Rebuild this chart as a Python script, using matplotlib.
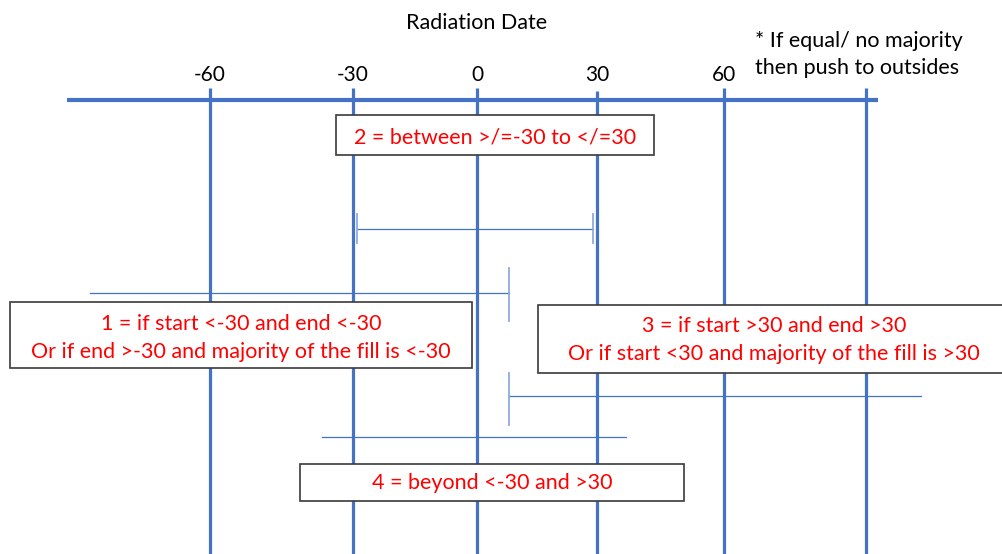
import numpy as np
import matplotlib
matplotlib.use('Agg')
import matplotlib.pyplot as plt
from matplotlib.patches import Rectangle

plt.rcParams['font.family'] = ['Lato', 'DejaVu Sans']

# ---- data ----
title = 'Radiation Date'
tick_days = [-60, -30, 0, 30, 60]
tick_labels = ['-60', '-30', '0', '30', '60']
grid_days = [-60, -30, 0, 30, 60, 90]
axis_span = [-90, 92.5]
interval_starts = [-29, -85.2, 8, -36.5]
interval_ends = [29, 8, 101.6, 36.9]
note_lines = ['* If equal/ no majority', 'then push to outsides']
box_texts = ['2 = between >/=-30 to </=30',
             '1 = if start <-30 and end <-30\nOr if end >-30 and majority of the fill is <-30',
             '3 = if start >30 and end >30\nOr if start <30 and majority of the fill is >30',
             '4 = beyond <-30 and >30']

# ---- uneven hand-drawn day scale ----
DAY_ANCH = [-200, -90, -60, -30, 0, 30, 60, 90, 120, 250]
PX_ANCH = [-314, 67, 210, 353, 477, 597, 724, 866, 1008, 1623]
fwd = lambda d: np.interp(d, DAY_ANCH, PX_ANCH)
inv = lambda p: np.interp(p, PX_ANCH, DAY_ANCH)

W, H = 1003, 554
fig = plt.figure(figsize=(W / 100, H / 100), dpi=100)
ax = fig.add_axes([0, 0, 1, 1])
ax.set_xscale('function', functions=(fwd, inv))
ax.set_xlim(inv(0), inv(W))
ax.set_ylim(H, 0)
ax.axis('off')

blue = '#4472C4'
FS = 15.5
# main axis line
ax.plot(axis_span, [100, 100], color=blue, lw=3.0, solid_capstyle='butt', zorder=2)
# vertical grid lines
tops = [88, 88, 88, 91, 88, 88]
for d, t in zip(grid_days, tops):
    ax.plot([d, d], [t, H], color=blue, lw=2.3, solid_capstyle='butt', zorder=2)
# tick labels
for d, lab in zip(tick_days, tick_labels):
    ax.text(d, 75, lab, ha='center', va='center', fontsize=15, color='black')
ax.text(0, 23, title, ha='center', va='center', fontsize=FS, color='black')

# intervals
iy = [229, 293, 396, 437]
for s, e, y in zip(interval_starts, interval_ends, iy):
    ax.plot([s, e], [y, y], color=blue, lw=0.9, zorder=3)
cap_col = '#8FAADC'
# caps: interval 2 both ends, interval 1 end, interval 3 start
ax.plot([interval_starts[0]] * 2, [214, 243], color=cap_col, lw=1.3, zorder=3)
ax.plot([interval_ends[0]] * 2, [214, 243], color=cap_col, lw=1.3, zorder=3)
ax.plot([interval_ends[1]] * 2, [268, 321], color=cap_col, lw=1.3, zorder=3)
ax.plot([interval_starts[2]] * 2, [373, 425], color=cap_col, lw=1.3, zorder=3)

# ---- overlay for annotation boxes (pixel layout) ----
ov = fig.add_axes([0, 0, 1, 1])
ov.set_xlim(0, W)
ov.set_ylim(H, 0)
ov.axis('off')
ov.patch.set_alpha(0)

boxes = [(336, 115, 654, 155), (10, 302, 472, 368), (538, 305, 1010, 373), (300, 464, 684, 501)]
centers = [(495, 137), (241, 338), (774, 340), (492, 483)]
for (x0, y0, x1, y1), (cx, cy), txt in zip(boxes, centers, box_texts):
    ov.add_patch(Rectangle((x0, y0), x1 - x0, y1 - y0, facecolor='white',
                           edgecolor='#3a3a3a', lw=1.2, zorder=5))
    ov.text(cx, cy, txt,
            ha='center', va='center', fontsize=FS, color='#FF0000',
            linespacing=1.55, zorder=6)

for i, line in enumerate(note_lines):
    ov.text(755, 41 + 27 * i, line, ha='left', va='center', fontsize=FS, color='black')

fig.savefig('out.png', dpi=100)
